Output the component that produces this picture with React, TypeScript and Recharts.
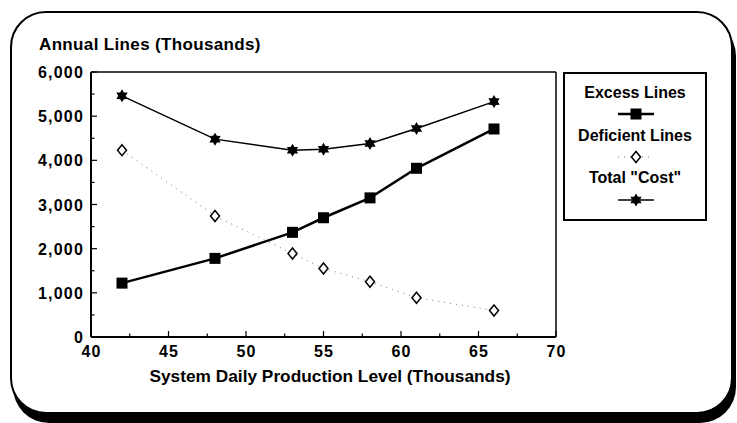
import React from "react";
import { Legend, Line, LineChart, ReferenceLine, XAxis, YAxis } from "recharts";

const productionLevels = [42, 48, 53, 55, 58, 61, 66];
const excessLines = [1220, 1780, 2370, 2700, 3150, 3820, 4710];
const deficientLines = [4230, 2740, 1890, 1550, 1250, 890, 600];
const totalCost = [5460, 4480, 4230, 4250, 4380, 4720, 5330];

const xTicks = [40, 42.5, 45, 47.5, 50, 52.5, 55, 57.5, 60, 62.5, 65, 67.5, 70];
const yTicks = [0, 500, 1000, 1500, 2000, 2500, 3000, 3500, 4000, 4500, 5000, 5500, 6000];

const legendOrder = ["excess", "deficient", "total"];

const data = productionLevels.map((x, i) => ({
  x,
  excess: excessLines[i],
  deficient: deficientLines[i],
  total: totalCost[i],
}));

const FONT = "'Liberation Sans', Arial, Helvetica, sans-serif";

const fmt = (v: number) => v.toLocaleString("en-US");

function XTick(props: any) {
  const { x, y, payload } = props;
  const major = payload.value % 5 === 0;
  return (
    <g>
      <line x1={x} x2={x} y1={y} y2={y - (major ? 6 : 3.5)} stroke="#000" strokeWidth={1.2} />
      {major && (
        <text
          x={x + 0.5}
          y={y + 20}
          textAnchor="middle"
          fontFamily={FONT}
          fontWeight="bold"
          fontSize={16}
          letterSpacing={1}
          fill="#000"
        >
          {payload.value}
        </text>
      )}
    </g>
  );
}

function YTick(props: any) {
  const { x, y, payload } = props;
  const major = payload.value % 1000 === 0;
  return (
    <g>
      <line x1={x} x2={x + (major ? 6 : 3.5)} y1={y} y2={y} stroke="#000" strokeWidth={1.2} />
      {major && (
        <text
          x={x - 7}
          y={y + 6}
          textAnchor="end"
          fontFamily={FONT}
          fontWeight="bold"
          fontSize={16}
          letterSpacing={1.2}
          fill="#000"
        >
          {fmt(payload.value)}
        </text>
      )}
    </g>
  );
}

function Square({ cx, cy }: { cx: number; cy: number }) {
  return <rect x={cx - 5.5} y={cy - 5.5} width={11} height={11} fill="#000" />;
}

function Diamond({ cx, cy }: { cx: number; cy: number }) {
  return (
    <polygon
      points={`${cx},${cy - 5.5} ${cx + 4.5},${cy} ${cx},${cy + 5.5} ${cx - 4.5},${cy}`}
      fill="#fff"
      stroke="#000"
      strokeWidth={1.5}
    />
  );
}

function Star({ cx, cy }: { cx: number; cy: number }) {
  const pts: string[] = [];
  for (let k = 0; k < 12; k++) {
    const r = k % 2 === 0 ? 6.5 : 3.8;
    const a = (Math.PI / 6) * k - Math.PI / 2;
    pts.push(`${cx + r * Math.cos(a)},${cy + r * Math.sin(a)}`);
  }
  return <polygon points={pts.join(" ")} fill="#000" />;
}

const seriesStyle: Record<string, { dash?: string; width: number; stroke: string; Mark: any }> = {
  excess: { width: 2.5, stroke: "#000", Mark: Square },
  deficient: { width: 1, stroke: "#777", dash: "1 5", Mark: Diamond },
  total: { width: 1.5, stroke: "#000", Mark: Star },
};

function LegendBox(props: any) {
  const items = [...(props.payload || [])].sort(
    (a: any, b: any) => legendOrder.indexOf(a.dataKey) - legendOrder.indexOf(b.dataKey)
  );
  return (
    <div
      style={{
        position: "relative",
        width: 144,
        height: 149,
        border: "2px solid #000",
        boxSizing: "border-box",
        background: "#fff",
        fontFamily: FONT,
        fontWeight: "bold",
        fontSize: 16,
        color: "#000",
      }}
    >
      {items.map((it: any, i: number) => {
        const s = seriesStyle[it.dataKey];
        const Mark = s.Mark;
        return (
          <React.Fragment key={it.dataKey}>
            <div
              style={{
                position: "absolute",
                left: 0,
                right: 0,
                top: 9 + i * 42.5,
                lineHeight: "20px",
                textAlign: "center",
                whiteSpace: "nowrap",
              }}
            >
              {it.value}
            </div>
            <svg width={40} height={16} style={{ position: "absolute", left: 51, top: 32 + i * 43 }}>
              <line x1={2} x2={38} y1={8} y2={8} stroke={s.stroke} strokeWidth={s.width} strokeDasharray={s.dash} />
              <Mark cx={20} cy={8} />
            </svg>
          </React.Fragment>
        );
      })}
    </div>
  );
}

const dotFor = (key: string) => (p: any) => {
  const Mark = seriesStyle[key].Mark;
  return <Mark key={`${key}-${p.index}`} cx={p.cx} cy={p.cy} />;
};

export default function App() {
  return (
    <div style={{ position: "absolute", left: 0, top: 0, width: 737, height: 423, background: "#fff", overflow: "hidden" }}>
      <div
        style={{
          position: "absolute",
          left: 10,
          top: 11,
          width: 723,
          height: 403,
          border: "2px solid #000",
          borderRadius: 36,
          boxSizing: "border-box",
          boxShadow: "3px 9px 0 #000",
          background: "#fff",
        }}
      />
      <div
        style={{
          position: "absolute",
          left: 39,
          top: 36,
          fontFamily: FONT,
          fontWeight: "bold",
          fontSize: 17,
          letterSpacing: 0.35,
          lineHeight: "17px",
          whiteSpace: "nowrap",
        }}
      >
        Annual Lines (Thousands)
      </div>
      <div
        style={{
          position: "absolute",
          left: 130,
          width: 400,
          top: 367,
          textAlign: "center",
          fontFamily: FONT,
          fontWeight: "bold",
          fontSize: 17.3,
          lineHeight: "18px",
          whiteSpace: "nowrap",
        }}
      >
        System Daily Production Level (Thousands)
      </div>
      <div style={{ position: "absolute", left: 0, top: 0 }}>
        <LineChart width={737} height={423} data={data} margin={{ top: 72, right: 181, bottom: 56, left: 31 }}>
          <XAxis
            dataKey="x"
            type="number"
            domain={[40, 70]}
            ticks={xTicks}
            interval={0}
            height={30}
            tickSize={0}
            tickMargin={0}
            tickLine={false}
            tick={<XTick />}
            axisLine={{ stroke: "#000", strokeWidth: 2 }}
          />
          <YAxis
            type="number"
            domain={[0, 6000]}
            ticks={yTicks}
            interval={0}
            width={60}
            tickSize={0}
            tickMargin={0}
            tickLine={false}
            tick={<YTick />}
            axisLine={{ stroke: "#000", strokeWidth: 2 }}
          />
          <ReferenceLine y={6000} stroke="#000" strokeWidth={1.5} />
          <ReferenceLine x={70} stroke="#000" strokeWidth={1.5} />
          <Line
            dataKey="excess"
            name="Excess Lines"
            stroke="#000"
            strokeWidth={2.5}
            dot={dotFor("excess")}
            activeDot={false}
            isAnimationActive={false}
          />
          <Line
            dataKey="deficient"
            name="Deficient Lines"
            stroke="#777"
            strokeWidth={1}
            strokeDasharray="1 5"
            dot={dotFor("deficient")}
            activeDot={false}
            isAnimationActive={false}
          />
          <Line
            dataKey="total"
            name={'Total "Cost"'}
            stroke="#000"
            strokeWidth={1.5}
            dot={dotFor("total")}
            activeDot={false}
            isAnimationActive={false}
          />
          <Legend
            layout="horizontal"
            verticalAlign="middle"
            align="center"
            content={<LegendBox />}
            wrapperStyle={{ left: 563, top: 72, width: 144, height: 149 }}
          />
        </LineChart>
      </div>
    </div>
  );
}
